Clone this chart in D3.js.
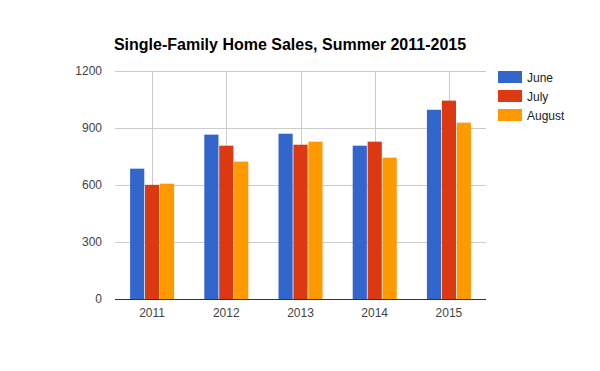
<!DOCTYPE html>
<html lang="en">
<head>
<meta charset="UTF-8">
<title>Single-Family Home Sales</title>
<script src="https://cdn.jsdelivr.net/npm/d3@7"></script>
<style>
  body { margin: 0; background: #fff; }
  text { font-family: Arial, "Liberation Sans", sans-serif; }
</style>
</head>
<body>
<svg id="chart" width="600" height="371"></svg>
<script>
var years = ["2011", "2012", "2013", "2014", "2015"];
var months = ["June", "July", "August"];
var june = [686, 865, 870, 807, 996];
var july = [601, 807, 812, 828, 1044];
var august = [607, 723, 828, 744, 928];
var yTicks = [0, 300, 600, 900, 1200];
var colors = ["#3366cc", "#dc3912", "#ff9900"];

var svg = d3.select("#chart");
// plot area (note: "top" is reserved on window, so use plotTop)
var plotLeft = 115, plotRight = 486, plotTop = 71, plotBottom = 299;

var data = years.map(function(y, i) {
  return { year: y, values: [june[i], july[i], august[i]] };
});

var x = d3.scaleBand().domain(years).range([plotLeft, plotRight]);
var yScale = d3.scaleLinear().domain([0, 1200]).range([plotBottom, plotTop]);
var groupW = 44;
var xInner = d3.scaleBand().domain(months).range([0, groupW]).paddingInner(0.05);

// horizontal grid
svg.append("g").selectAll("line").data(yTicks).enter().append("line")
  .attr("x1", plotLeft).attr("x2", plotRight)
  .attr("y1", d => Math.round(yScale(d)) + 0.5).attr("y2", d => Math.round(yScale(d)) + 0.5)
  .attr("stroke", "#cccccc");

// vertical grid at categories
svg.append("g").selectAll("line").data(years).enter().append("line")
  .attr("x1", d => Math.round(x(d) + x.bandwidth() / 2) + 0.5)
  .attr("x2", d => Math.round(x(d) + x.bandwidth() / 2) + 0.5)
  .attr("y1", plotTop).attr("y2", plotBottom)
  .attr("stroke", "#cccccc");

// bars
var groups = svg.append("g").selectAll("g").data(data).enter().append("g")
  .attr("transform", d => "translate(" + (x(d.year) + x.bandwidth() / 2 - groupW / 2) + ",0)");

groups.selectAll("rect")
  .data(d => d.values.map((v, i) => ({ month: months[i], value: v, i: i })))
  .enter().append("rect")
  .attr("x", d => xInner(d.month))
  .attr("width", xInner.bandwidth())
  .attr("y", d => yScale(d.value))
  .attr("height", d => yScale(0) - yScale(d.value))
  .attr("fill", d => colors[d.i]);

// baseline
svg.append("line")
  .attr("x1", plotLeft).attr("x2", plotRight)
  .attr("y1", plotBottom + 0.5).attr("y2", plotBottom + 0.5)
  .attr("stroke", "#333333");

// y labels
svg.append("g").selectAll("text").data(yTicks).enter().append("text")
  .attr("x", plotLeft - 13).attr("y", d => yScale(d) + 4)
  .attr("text-anchor", "end")
  .attr("font-size", 12).attr("fill", "#444")
  .text(d => d);

// x labels
svg.append("g").selectAll("text").data(years).enter().append("text")
  .attr("x", d => x(d) + x.bandwidth() / 2)
  .attr("y", 317)
  .attr("text-anchor", "middle")
  .attr("font-size", 12).attr("fill", "#444")
  .text(d => d);

// title
svg.append("text")
  .attr("x", 290).attr("y", 50)
  .attr("text-anchor", "middle")
  .attr("font-size", 16).attr("font-weight", "bold").attr("fill", "#000")
  .text("Single-Family Home Sales, Summer 2011-2015");

// legend
var legend = svg.append("g").selectAll("g").data(months).enter().append("g")
  .attr("transform", (d, i) => "translate(498," + (71 + i * 19) + ")");
legend.append("rect").attr("width", 24).attr("height", 12).attr("fill", (d, i) => colors[i]);
legend.append("text").attr("x", 29).attr("y", 10.5)
  .attr("font-size", 12).attr("fill", "#222").text(d => d);
</script>
</body>
</html>
